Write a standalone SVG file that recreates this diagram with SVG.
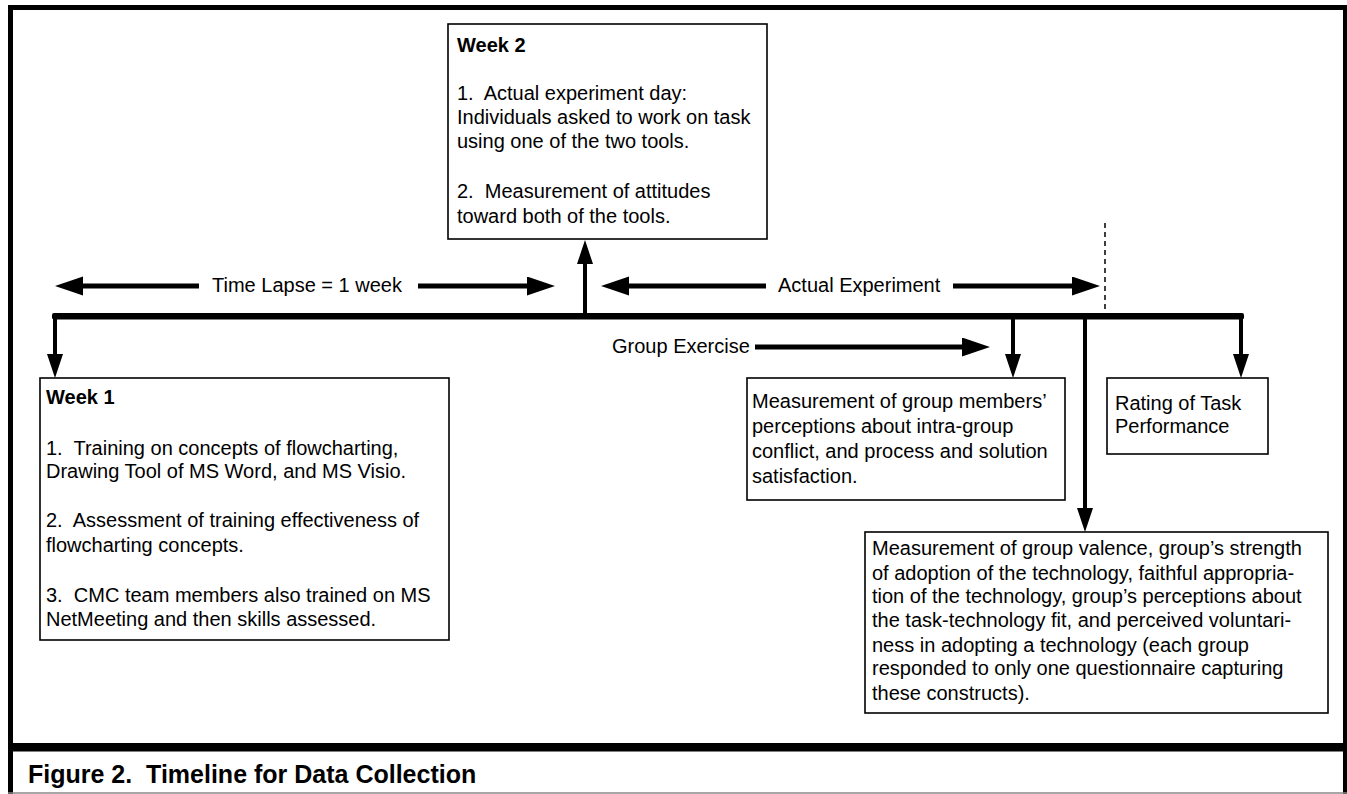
<svg xmlns="http://www.w3.org/2000/svg" width="1347" height="794" viewBox="0 0 1347 794">
  <style>
    .t { font-family: "Liberation Sans", Arial, sans-serif; font-size: 20px; fill: #000; }
    .b { font-weight: bold; }
    .cap { font-family: "Liberation Sans", Arial, sans-serif; font-size: 25px; font-weight: bold; fill: #000; }
    .box { fill: #fff; stroke: #000; stroke-width: 1.6; }
    .harr { stroke: #000; stroke-width: 5; fill: none; }
    .varr { stroke: #000; stroke-width: 4; fill: none; }
  </style>
  <defs>
    <marker id="headL" markerUnits="userSpaceOnUse" markerWidth="30" markerHeight="20" refX="2" refY="9.5" orient="auto">
      <path d="M0,0 L28,9.5 L0,19 Z" fill="#000"/>
    </marker>
    <marker id="headS" markerUnits="userSpaceOnUse" markerWidth="26" markerHeight="18" refX="2" refY="8" orient="auto">
      <path d="M0,0 L24,8 L0,16 Z" fill="#000"/>
    </marker>
  </defs>
  <rect x="0" y="0" width="1347" height="794" fill="#fff"/>

  <!-- frame -->
  <g id="frame">
    <line x1="8" y1="7.5" x2="1347" y2="7.5" stroke="#000" stroke-width="5"/>
    <line x1="10.5" y1="5" x2="10.5" y2="794" stroke="#000" stroke-width="5"/>
    <line x1="1345" y1="5" x2="1345" y2="794" stroke="#000" stroke-width="4"/>
    <rect x="8" y="743" width="1339" height="8.5" fill="#000"/>
    <line x1="8" y1="793" x2="1347" y2="793" stroke="#888" stroke-width="1.5"/>
  </g>

  <!-- timeline and connectors -->
  <g id="connectors">
    <rect x="52" y="313" width="1192" height="6.5" rx="2" fill="#000"/>
    <line x1="1105" y1="223" x2="1105" y2="316" stroke="#000" stroke-width="1.5" stroke-dasharray="5,4"/>
    <!-- time lapse arrows -->
    <line class="harr" x1="199" y1="286" x2="81" y2="286" marker-end="url(#headL)"/>
    <line class="harr" x1="418" y1="286" x2="529" y2="286" marker-end="url(#headL)"/>
    <!-- actual experiment arrows -->
    <line class="harr" x1="766" y1="286" x2="627" y2="286" marker-end="url(#headL)"/>
    <line class="harr" x1="953" y1="286" x2="1074" y2="286" marker-end="url(#headL)"/>
    <!-- group exercise arrow -->
    <line class="harr" x1="755" y1="347" x2="964" y2="347" marker-end="url(#headL)"/>
    <!-- vertical arrows -->
    <line class="varr" x1="55" y1="316" x2="55" y2="356" marker-end="url(#headS)"/>
    <line class="varr" x1="585" y1="316" x2="585" y2="262" marker-end="url(#headS)"/>
    <line class="varr" x1="1013" y1="316" x2="1013" y2="356" marker-end="url(#headS)"/>
    <line class="varr" x1="1085" y1="316" x2="1085" y2="510" marker-end="url(#headS)"/>
    <line class="varr" x1="1241" y1="316" x2="1241" y2="356" marker-end="url(#headS)"/>
  </g>

  <g id="labels">
    <text class="t" x="212" y="292">Time Lapse = 1 week</text>
    <text class="t" x="778" y="292">Actual Experiment</text>
    <text class="t" x="612" y="353">Group Exercise</text>
  </g>

  <g id="week2">
    <rect class="box" x="448" y="24" width="319" height="215"/>
    <text class="t b" x="457" y="52">Week 2</text>
    <text class="t" x="457" y="100" xml:space="preserve">1.  Actual experiment day:</text>
    <text class="t" x="457" y="124">Individuals asked to work on task</text>
    <text class="t" x="457" y="148">using one of the two tools.</text>
    <text class="t" x="457" y="198" xml:space="preserve">2.  Measurement of attitudes</text>
    <text class="t" x="457" y="223">toward both of the tools.</text>
  </g>

  <g id="week1">
    <rect class="box" x="40" y="378" width="409" height="262"/>
    <text class="t b" x="46" y="404">Week 1</text>
    <text class="t" x="46" y="455" xml:space="preserve">1.  Training on concepts of flowcharting,</text>
    <text class="t" x="46" y="478">Drawing Tool of MS Word, and MS Visio.</text>
    <text class="t" x="46" y="527" xml:space="preserve">2.  Assessment of training effectiveness of</text>
    <text class="t" x="46" y="552">flowcharting concepts.</text>
    <text class="t" x="46" y="602" xml:space="preserve">3.  CMC team members also trained on MS</text>
    <text class="t" x="46" y="626">NetMeeting and then skills assessed.</text>
  </g>

  <g id="groupMeasure">
    <rect class="box" x="747" y="378" width="318" height="122"/>
    <text class="t" x="752" y="408">Measurement of group members’</text>
    <text class="t" x="752" y="433">perceptions about intra-group</text>
    <text class="t" x="752" y="458">conflict, and process and solution</text>
    <text class="t" x="752" y="483">satisfaction.</text>
  </g>

  <g id="rating">
    <rect class="box" x="1107" y="378" width="161" height="76"/>
    <text class="t" x="1115" y="410">Rating of Task</text>
    <text class="t" x="1115" y="433">Performance</text>
  </g>

  <g id="valence">
    <rect class="box" x="865" y="532" width="463" height="181"/>
    <text class="t" x="872" y="555">Measurement of group valence, group’s strength</text>
    <text class="t" x="872" y="580">of adoption of the technology, faithful appropria-</text>
    <text class="t" x="872" y="603">tion of the technology, group’s perceptions about</text>
    <text class="t" x="872" y="627">the task-technology fit, and perceived voluntari-</text>
    <text class="t" x="872" y="652">ness in adopting a technology (each group</text>
    <text class="t" x="872" y="675">responded to only one questionnaire capturing</text>
    <text class="t" x="872" y="700">these constructs).</text>
  </g>

  <g id="caption">
    <text class="cap" x="28" y="783" xml:space="preserve">Figure 2.  Timeline for Data Collection</text>
  </g>
</svg>
